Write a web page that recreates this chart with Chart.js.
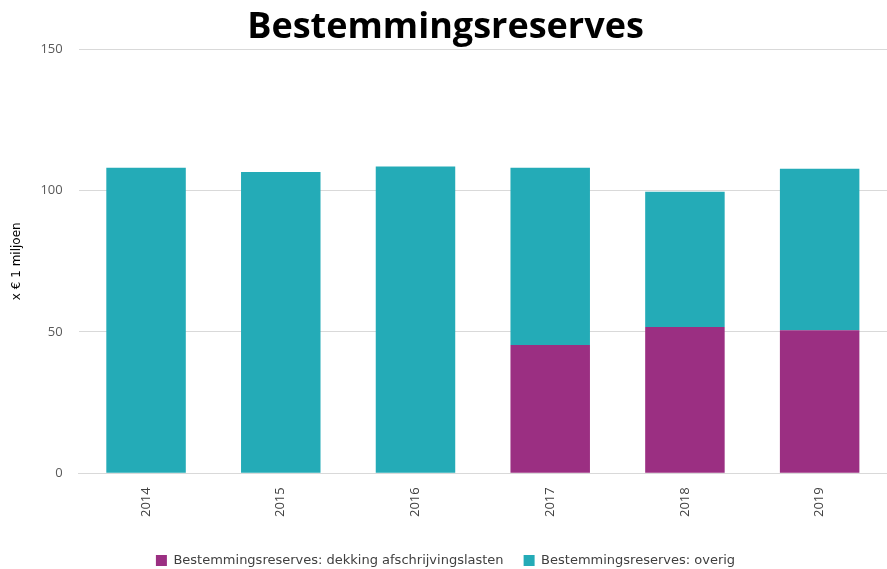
<!DOCTYPE html>
<html>
<head>
<meta charset="utf-8">
<script src="https://cdn.jsdelivr.net/npm/chart.js@4"></script>
<style>
  html, body { margin: 0; padding: 0; background: #fff; }
  #wrap { position: relative; width: 887px; height: 569px; }
</style>
</head>
<body>
<div id="wrap"><canvas id="chart"></canvas></div>
<script>
// Data
const years = ["2014", "2015", "2016", "2017", "2018", "2019"];
const dekking = [0, 0, 0, 45.4, 51.7, 50.6];
const overig = [108.1, 106.6, 108.5, 62.7, 47.9, 57.1];
const yTicks = [0, 50, 100, 150];

const ctx = document.getElementById("chart").getContext("2d");

new Chart(ctx, {
  type: "bar",
  data: {
    labels: years,
    datasets: [
      {
        label: "Bestemmingsreserves: dekking afschrijvingslasten",
        data: dekking,
        backgroundColor: "#9b2f82",
        barPercentage: 0.59,
        categoryPercentage: 1
      },
      {
        label: "Bestemmingsreserves: overig",
        data: overig,
        backgroundColor: "#24abb7",
        barPercentage: 0.59,
        categoryPercentage: 1
      }
    ]
  },
  options: {
    responsive: true,
    maintainAspectRatio: false,
    animation: false,
    layout: { padding: { left: 4, right: 0, top: 0, bottom: -8 } },
    plugins: {
      title: {
        display: true,
        text: "Bestemmingsreserves",
        color: "#000",
        font: { family: "Open Sans", size: 36, weight: "bold" },
        padding: { top: 6, bottom: 0 }
      },
      legend: {
        position: "bottom",
        labels: {
          color: "#404040",
          font: { family: "DejaVu Sans", size: 13 },
          boxWidth: 11,
          boxHeight: 11,
          padding: 20
        }
      },
      tooltip: { enabled: false }
    },
    scales: {
      x: {
        stacked: true,
        grid: { display: false },
        border: { color: "#d9d9d9" },
        afterFit: scale => { scale.height += 11; },
        ticks: {
          color: "#404040",
          font: { family: "Open Sans", size: 13 },
          minRotation: 90,
          maxRotation: 90,
          padding: 6
        }
      },
      y: {
        stacked: true,
        min: 0,
        max: 150,
        afterBuildTicks: axis => { axis.ticks = yTicks.map(v => ({ value: v })); },
        grid: { color: "#d9d9d9", drawTicks: false },
        border: { display: false },
        ticks: {
          color: "#595959",
          font: { family: "Open Sans", size: 13 },
          padding: 16
        },
        title: {
          display: true,
          text: "x € 1 miljoen",
          color: "#000",
          font: { family: "DejaVu Sans", size: 12 },
          padding: { top: 6, bottom: 0 }
        }
      }
    }
  }
});
</script>
</body>
</html>
